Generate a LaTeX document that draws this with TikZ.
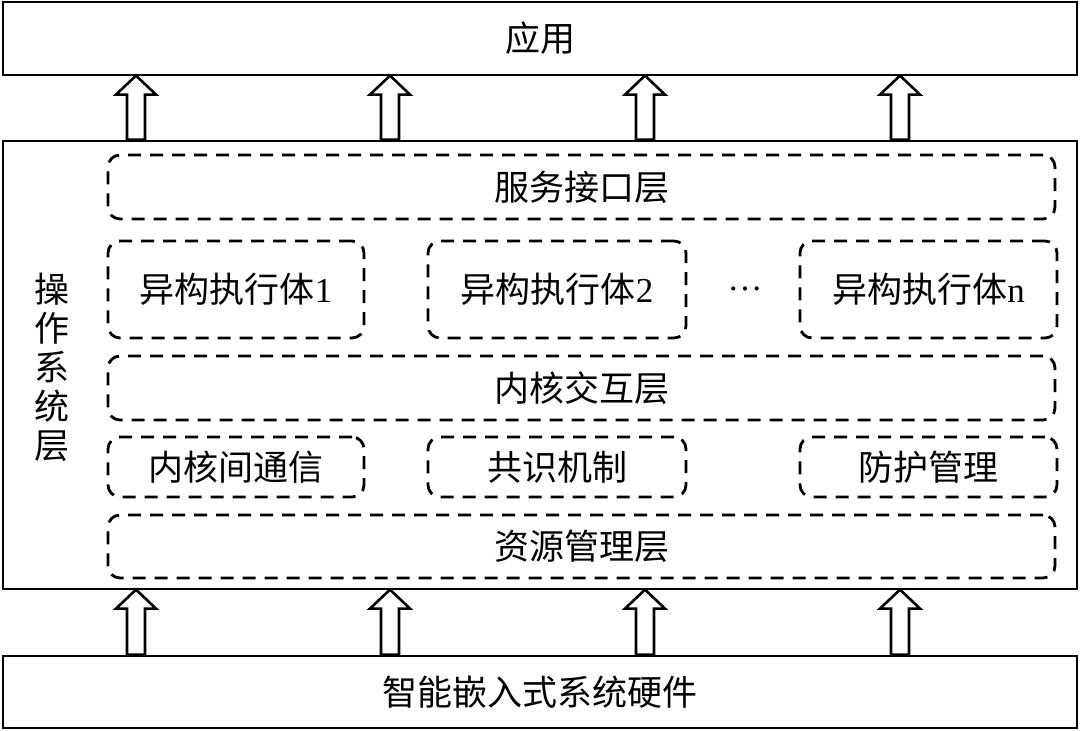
\documentclass[tikz,border=0pt]{standalone}
\usepackage{fontspec}
\setmainfont{Liberation Serif}
\newfontfamily\cjk{Noto Sans CJK SC}
\begin{document}
\begin{tikzpicture}[x=1pt,y=-1pt,
  solidbox/.style={draw,line width=2.8pt,minimum width=1074pt,inner sep=0pt,anchor=center},
  dbox/.style={draw,line width=2.8pt,dash pattern=on 13pt off 9pt,rounded corners=12pt,inner sep=0pt,anchor=center},
  lbl/.style={font=\fontsize{35}{40}\selectfont},
  harrow/.style={draw,line width=2.6pt,fill=white,line join=miter}]
\useasboundingbox (0,0) rectangle (1080,731);
\node[solidbox,minimum height=73pt,lbl] (app) at (540,38.5) {\cjk 应用};
\node[solidbox,minimum height=448pt] (os) at (540,365) {};
\node[solidbox,minimum height=72pt,lbl] (hw) at (540,692) {\cjk 智能嵌入式系统硬件};
\node[align=center,font=\fontsize{35}{39}\selectfont] (oslbl) at (52,367) {\cjk 操\\\cjk 作\\\cjk 系\\\cjk 统\\\cjk 层};
\node[dbox,minimum width=947pt,minimum height=64pt,lbl] (svc) at (581.5,187) {\cjk 服务接口层};
\node[dbox,minimum width=256pt,minimum height=97pt,lbl] (e1) at (236,289.5) {{\cjk 异构执行体}1};
\node[dbox,minimum width=258pt,minimum height=97pt,lbl] (e2) at (557,289.5) {{\cjk 异构执行体}2};
\node[lbl] (dots) at (745,289) {…};
\node[dbox,minimum width=257pt,minimum height=97pt,lbl] (en) at (928.5,289.5) {{\cjk 异构执行体}n};
\node[dbox,minimum width=947pt,minimum height=64pt,lbl] (ker) at (581.5,388) {\cjk 内核交互层};
\node[dbox,minimum width=256pt,minimum height=60pt,lbl] (c1) at (236,467) {\cjk 内核间通信};
\node[dbox,minimum width=258pt,minimum height=60pt,lbl] (c2) at (557,467) {\cjk 共识机制};
\node[dbox,minimum width=257pt,minimum height=60pt,lbl] (c3) at (928.5,467) {\cjk 防护管理};
\node[dbox,minimum width=947pt,minimum height=63pt,lbl] (res) at (581.5,546.5) {\cjk 资源管理层};
\foreach \x in {136,390,645,900}{
  \coordinate (ax) at (\x,0);
  \draw[harrow] (os.north -| ax) ++(-9,0) -- ++(0,-45) -- ++(-11,0) -- ++(20,-19) -- ++(20,19) -- ++(-11,0) -- ++(0,45) -- cycle;
  \draw[harrow] (hw.north -| ax) ++(-9,0) -- ++(0,-46) -- ++(-11,0) -- ++(20,-19) -- ++(20,19) -- ++(-11,0) -- ++(0,46) -- cycle;
}
\end{tikzpicture}
\end{document}
